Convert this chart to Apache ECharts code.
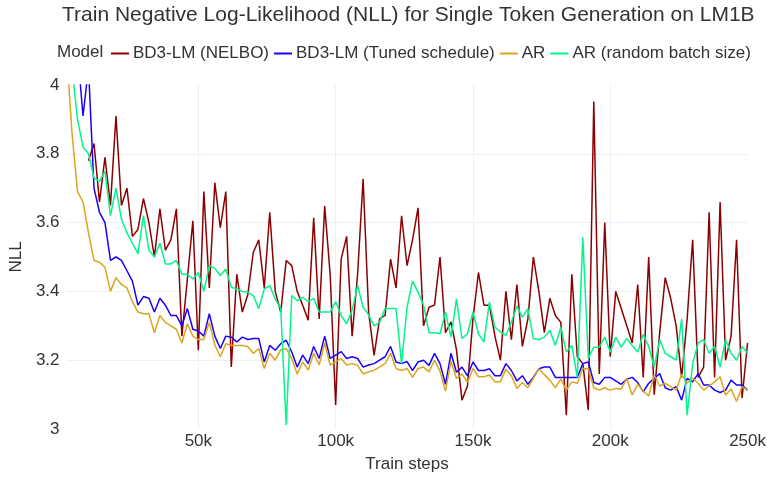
<!DOCTYPE html>
<html>
<head>
<meta charset="utf-8">
<script src="https://cdn.jsdelivr.net/npm/echarts@6.0.0/dist/echarts.min.js"></script>
<style>
  html, body { margin: 0; padding: 0; background: #fff; }
  #chart { width: 769px; height: 478px; }
</style>
</head>
<body>
<div id="chart"></div>
<script>
// train steps, one point every 2k
var steps = []
for (var s = 2000; s <= 250000; s += 2000) steps.push(s)

var seriesNames = ['BD3-LM (NELBO)', 'BD3-LM (Tuned schedule)', 'AR', 'AR (random batch size)']
var colors = ['#8b0000', '#1a00ff', '#daa520', '#00f58a']

var nelbo = [
  null, null, null, null, 3.78, 3.83, 3.66, 3.79, 3.65, 3.91,
  3.65, 3.70, 3.56, 3.58, 3.67, 3.60, 3.50, 3.64, 3.52, 3.55,
  3.64, 3.27, 3.436, 3.605, 3.229, 3.69, 3.41, 3.716, 3.585, 3.69,
  3.18, 3.45, 3.34, 3.39, 3.513, 3.55, 3.41, 3.63, 3.40, 3.34,
  3.49, 3.475, 3.40, 3.36, 3.316, 3.614, 3.32, 3.648, 3.45, 3.07,
  3.494, 3.56, 3.27, 3.45, 3.727, 3.34, 3.214, 3.32, 3.33, 3.494,
  3.41, 3.62, 3.475, 3.55, 3.643, 3.30, 3.354, 3.36, 3.50, 3.28,
  3.311, 3.23, 3.084, 3.125, 3.32, 3.455, 3.36, 3.36, 3.27, 3.20,
  3.40, 3.26, 3.42, 3.24, 3.32, 3.50, 3.40, 3.28, 3.38, 3.33,
  3.31, 3.04, 3.45, 3.21, 3.19, 3.055, 3.952, 3.16, 3.60, 3.21,
  3.40, 3.35, 3.30, 3.25, 3.42, 3.15, 3.50, 3.10, 3.28, 3.44,
  3.38, 3.30, 3.15, 3.32, 3.55, 3.15, 3.18, 3.63, 3.15, 3.66,
  3.20, 3.27, 3.55, 3.09, 3.25
]

var tuned = [
  4.5, 4.3, 4.1, 3.91, 4.05, 3.70, 3.63, 3.60, 3.49, 3.50,
  3.49, 3.46, 3.43, 3.36, 3.385, 3.38, 3.34, 3.38, 3.36, 3.33,
  3.33, 3.30, 3.35, 3.29, 3.285, 3.27, 3.335, 3.27, 3.234, 3.27,
  3.267, 3.253, 3.267, 3.26, 3.263, 3.263, 3.195, 3.243, 3.229, 3.248,
  3.258, 3.224, 3.18, 3.215, 3.19, 3.24, 3.205, 3.27, 3.205, 3.215,
  3.225, 3.205, 3.21, 3.205, 3.18, 3.186, 3.19, 3.20, 3.21, 3.24,
  3.195, 3.19, 3.196, 3.17, 3.195, 3.20, 3.185, 3.22, 3.19, 3.13,
  3.22, 3.165, 3.18, 3.155, 3.195, 3.17, 3.17, 3.175, 3.155, 3.155,
  3.19, 3.17, 3.14, 3.155, 3.13, 3.15, 3.175, 3.18, 3.18, 3.15,
  3.15, 3.15, 3.15, 3.15, 3.19, 3.195, 3.135, 3.13, 3.15, 3.15,
  3.14, 3.13, 3.145, 3.15, 3.135, 3.108, 3.133, 3.147, 3.161, 3.12,
  3.113, 3.123, 3.084, 3.147, 3.137, 3.161, 3.128, 3.128, 3.113, 3.106,
  3.113, 3.142, 3.128, 3.128, 3.113
]

var ar = [
  4.10, 3.86, 3.69, 3.66, 3.57, 3.49, 3.485, 3.47, 3.40, 3.44,
  3.42, 3.41, 3.37, 3.34, 3.335, 3.335, 3.28, 3.33, 3.31, 3.30,
  3.29, 3.25, 3.306, 3.27, 3.26, 3.26, 3.31, 3.245, 3.21, 3.248,
  3.243, 3.243, 3.243, 3.24, 3.22, 3.234, 3.176, 3.22, 3.20, 3.23,
  3.234, 3.205, 3.16, 3.195, 3.171, 3.22, 3.186, 3.25, 3.186, 3.195,
  3.205, 3.186, 3.19, 3.185, 3.16, 3.166, 3.171, 3.18, 3.19, 3.22,
  3.176, 3.17, 3.176, 3.15, 3.176, 3.18, 3.166, 3.20, 3.168, 3.11,
  3.197, 3.147, 3.16, 3.135, 3.176, 3.152, 3.152, 3.157, 3.137, 3.137,
  3.174, 3.155, 3.118, 3.135, 3.12, 3.147, 3.175, 3.158, 3.142, 3.12,
  3.145, 3.113, 3.137, 3.133, 3.176, 3.175, 3.12, 3.113, 3.12, 3.113,
  3.118, 3.116, 3.147, 3.099, 3.13, 3.11, 3.096, 3.157, 3.125, 3.133,
  3.123, 3.113, 3.159, 3.133, 3.147, 3.133, 3.113, 3.125, 3.137, 3.152,
  3.099, 3.116, 3.08, 3.123, 3.113
]

var arRandom = [
  4.2, 4.05, 3.90, 3.82, 3.80, 3.73, 3.72, 3.75, 3.62, 3.70,
  3.61, 3.57, 3.54, 3.51, 3.62, 3.52, 3.50, 3.54, 3.48, 3.48,
  3.49, 3.45, 3.45, 3.436, 3.455, 3.40, 3.475, 3.467, 3.446, 3.465,
  3.412, 3.407, 3.40, 3.398, 3.388, 3.35, 3.407, 3.417, 3.378, 3.35,
  3.012, 3.388, 3.373, 3.383, 3.37, 3.38, 3.34, 3.34, 3.34, 3.37,
  3.33, 3.306, 3.345, 3.417, 3.354, 3.332, 3.30, 3.31, 3.35, 3.35,
  3.35, 3.19, 3.354, 3.43, 3.398, 3.36, 3.28, 3.28, 3.277, 3.34,
  3.267, 3.378, 3.263, 3.277, 3.34, 3.277, 3.253, 3.369, 3.296, 3.282,
  3.272, 3.311, 3.357, 3.325, 3.35, 3.263, 3.26, 3.267, 3.287, 3.243,
  3.296, 3.224, 3.243, 3.15, 3.557, 3.205, 3.238, 3.238, 3.267, 3.224,
  3.267, 3.238, 3.263, 3.243, 3.224, 3.275, 3.24, 3.18, 3.26, 3.22,
  3.21, 3.20, 3.32, 3.04, 3.19, 3.25, 3.26, 3.22, 3.24, 3.18,
  3.26, 3.22, 3.20, 3.24, 3.22
]

var yTicks = [3, 3.2, 3.4, 3.6, 3.8, 4]

var values = [nelbo, tuned, ar, arRandom]
var textColor = '#333'
var fontFam = '"Liberation Sans", Arial, sans-serif'

var myChart = echarts.init(document.getElementById('chart'), null, { renderer: 'canvas' })
myChart.setOption({
  animation: false,
  color: colors,
  title: [
    {
      text: 'Train Negative Log-Likelihood (NLL) for Single Token Generation on LM1B',
      left: 57,
      top: 0,
      textStyle: { fontFamily: fontFam, fontSize: 21, fontWeight: 'normal', color: textColor }
    },
    {
      text: 'Model',
      left: 52,
      top: 39,
      textStyle: { fontFamily: fontFam, fontSize: 17, fontWeight: 'normal', color: textColor }
    }
  ],
  legend: {
    data: seriesNames,
    left: 106,
    top: 40,
    icon: 'rect',
    itemWidth: 18,
    itemHeight: 2,
    itemGap: 5,
    textStyle: { fontFamily: fontFam, fontSize: 17, color: textColor, padding: [0, 0, 0, -1] }
  },
  grid: {
    left: 62,
    right: 19,
    top: 85,
    bottom: 48
  },
  xAxis: {
    type: 'value',
    min: 2000,
    max: 250000,
    name: 'Train steps',
    nameLocation: 'middle',
    nameGap: 27,
    nameTextStyle: { fontFamily: fontFam, fontSize: 17, color: textColor },
    axisLine: { show: false },
    axisTick: { show: false },
    axisLabel: {
      fontFamily: fontFam,
      fontSize: 17,
      color: textColor,
      margin: 4,
      formatter: function (v) {
        return v % 50000 === 0 ? v / 1000 + 'k' : ''
      }
    },
    splitLine: {
      show: true,
      showMinLine: false,
      showMaxLine: false,
      lineStyle: { color: '#ebf0f8', width: 1 }
    }
  },
  yAxis: {
    type: 'value',
    min: yTicks[0],
    max: yTicks[yTicks.length - 1],
    interval: 0.2,
    name: 'NLL',
    nameLocation: 'middle',
    nameGap: 40,
    nameTextStyle: { fontFamily: fontFam, fontSize: 17, color: textColor },
    axisLine: { show: false },
    axisTick: { show: false },
    axisLabel: {
      fontFamily: fontFam,
      fontSize: 17,
      color: textColor,
      margin: 7,
      formatter: function (v) {
        return String(Math.round(v * 10) / 10)
      }
    },
    splitLine: {
      show: true,
      showMinLine: false,
      showMaxLine: false,
      lineStyle: { color: '#ebf0f8', width: 1 }
    }
  },
  series: seriesNames.map(function (name, i) {
    return {
      name: name,
      type: 'line',
      showSymbol: false,
      symbol: 'none',
      connectNulls: false,
      clip: true,
      lineStyle: { width: 1.5, color: colors[i] },
      data: steps.map(function (st, j) { return [st, values[i][j]] })
    }
  })
})
window.addEventListener('resize', function () {
  myChart.resize()
})
</script>
</body>
</html>
